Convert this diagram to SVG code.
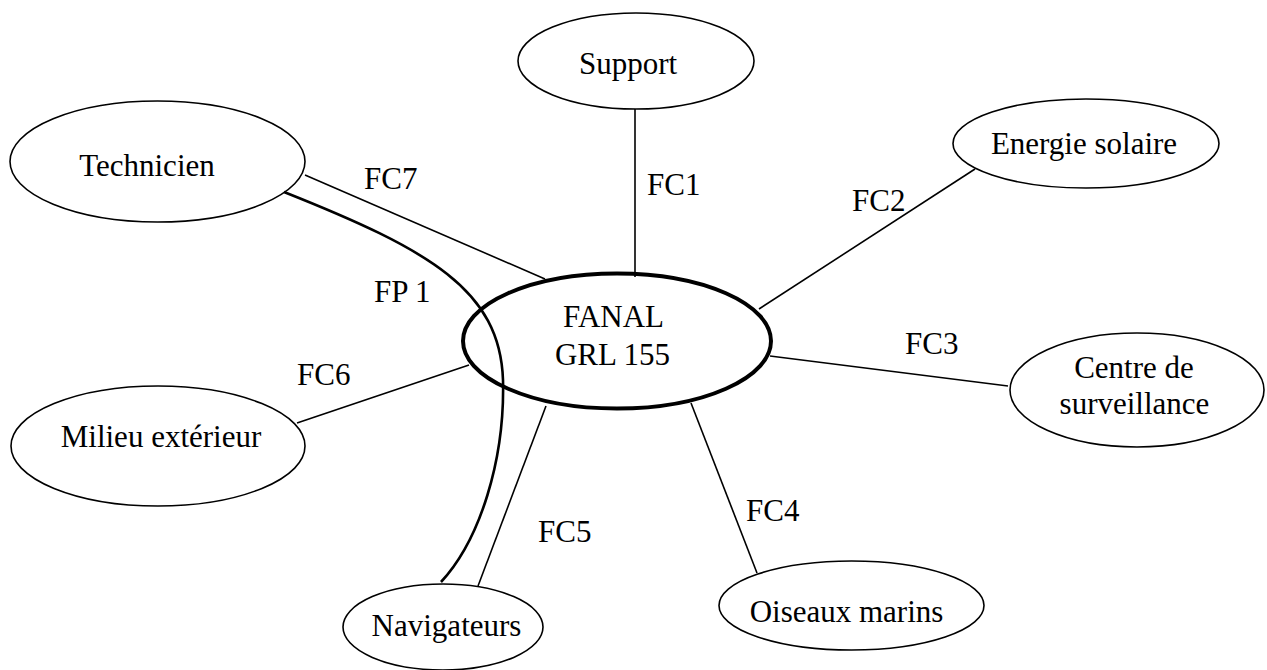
<svg xmlns="http://www.w3.org/2000/svg" width="1267" height="670" viewBox="0 0 1267 670">
<style>
.n{fill:#fff;stroke:#000;stroke-width:1.6}
.main{fill:none;stroke:#000;stroke-width:4}
.t{font-family:"Liberation Serif","Times New Roman",serif;font-size:31px;fill:#000}
.m{text-anchor:middle}
.c{stroke:#000;stroke-width:1.6;fill:none}
.fp{stroke:#000;stroke-width:2.6;fill:none}
</style>
<rect width="1267" height="670" fill="#fff"/>
<g id="node-support"><ellipse class="n" cx="636" cy="61" rx="118" ry="48"/><text class="t m" x="628" y="74">Support</text></g>
<g id="node-technicien"><ellipse class="n" cx="157.5" cy="161.5" rx="147.5" ry="60.5"/><text class="t m" x="147" y="176">Technicien</text></g>
<g id="node-energie"><ellipse class="n" cx="1086" cy="143.5" rx="133" ry="44.5"/><text class="t m" x="1084" y="154">Energie solaire</text></g>
<g id="node-centre"><ellipse class="n" cx="1137" cy="390" rx="127" ry="57"/><text class="t m" x="1134" y="378">Centre de</text><text class="t m" x="1134.5" y="414">surveillance</text></g>
<g id="node-milieu"><ellipse class="n" cx="158" cy="446" rx="147" ry="60"/><text class="t m" x="161" y="447">Milieu extérieur</text></g>
<g id="node-navigateurs"><ellipse class="n" cx="443" cy="627" rx="100" ry="43"/><text class="t m" x="446.5" y="636">Navigateurs</text></g>
<g id="node-oiseaux"><ellipse class="n" cx="851.5" cy="605.5" rx="132.5" ry="44.5"/><text class="t m" x="846.5" y="622">Oiseaux marins</text></g>
<g id="connectors">
<line class="c" x1="635" y1="109" x2="635" y2="277"/>
<line class="c" x1="975" y1="169" x2="759" y2="309"/>
<line class="c" x1="770" y1="356" x2="1008" y2="386"/>
<line class="c" x1="691" y1="403" x2="757" y2="573"/>
<line class="c" x1="546" y1="406" x2="478" y2="586"/>
<line class="c" x1="469" y1="365" x2="297" y2="423"/>
<line class="c" x1="305" y1="175" x2="545" y2="279"/>
<path class="fp" d="M284,192 C430,250 500,290 503,380 C505,460 480,540 441,582"/>
<text class="t" x="647" y="195">FC1</text>
<text class="t" x="852" y="211">FC2</text>
<text class="t" x="905" y="354">FC3</text>
<text class="t" x="746" y="521">FC4</text>
<text class="t" x="538" y="542">FC5</text>
<text class="t" x="297" y="385">FC6</text>
<text class="t" x="364" y="189">FC7</text>
<text class="t" x="374" y="302">FP 1</text>
</g>
<g id="node-fanal"><ellipse class="main" cx="617" cy="341" rx="154" ry="67.5"/><text class="t m" x="613.5" y="327">FANAL</text><text class="t m" x="612.5" y="365">GRL 155</text></g>
</svg>
